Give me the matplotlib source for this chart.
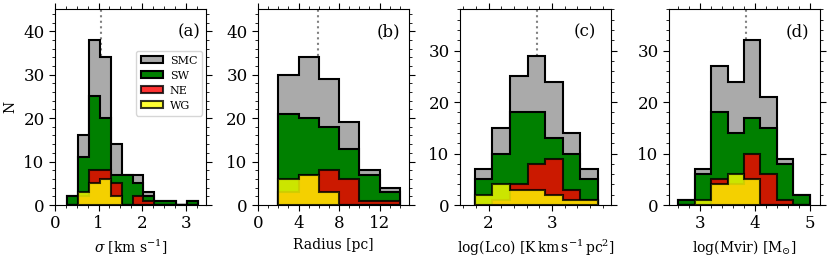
import matplotlib
matplotlib.use("Agg")
import matplotlib.pyplot as plt
from matplotlib.ticker import MultipleLocator

plt.rcParams['font.family'] = 'serif'
plt.rcParams['font.serif'] = ['DejaVu Serif']
plt.rcParams['mathtext.fontset'] = 'dejavuserif'

# groups, drawn back to front
labels = ['SMC', 'SW', 'NE', 'WG']
colors = ['#aaaaaa', 'green', 'red', 'yellow']
alphas = [1.0, 1.0, 0.8, 0.8]

# (a) velocity dispersion
sig_edges = [0.28, 0.53, 0.78, 1.03, 1.28, 1.53, 1.78, 2.03, 2.28, 2.53, 2.78, 3.03, 3.28]
sig_smc = [2, 16, 38, 34, 14, 7, 7, 3, 1, 1, 0, 1]
sig_sw = [2, 11, 25, 20, 7, 7, 5, 2, 1, 1, 0, 1]
sig_ne = [0, 2, 8, 8, 5, 0, 2, 1, 0, 0, 0, 0]
sig_wg = [0, 3, 5, 6, 2, 0, 0, 0, 0, 0, 0, 0]

# (b) radius
rad_edges = [2, 4, 6, 8, 10, 12, 14]
rad_smc = [30, 34, 29, 19, 8, 4]
rad_sw = [21, 20, 18, 13, 7, 3]
rad_ne = [3, 7, 8, 6, 1, 1]
rad_wg = [6, 7, 3, 0, 0, 0]

# (c) log CO luminosity
lco_edges = [1.78, 2.058, 2.336, 2.614, 2.892, 3.17, 3.448, 3.726]
lco_smc = [7, 15, 25, 29, 24, 14, 7]
lco_sw = [5, 10, 18, 18, 13, 10, 5]
lco_ne = [0, 1, 4, 8, 9, 3, 1]
lco_wg = [2, 4, 3, 3, 2, 1, 1]

# (d) log virial mass
mvir_edges = [2.6, 2.9, 3.2, 3.5, 3.8, 4.1, 4.4, 4.7, 5.0]
mvir_smc = [1, 7, 27, 24, 32, 21, 9, 2]
mvir_sw = [1, 6, 18, 14, 17, 15, 8, 2]
mvir_ne = [0, 0, 5, 4, 10, 6, 1, 0]
mvir_wg = [0, 1, 4, 6, 5, 0, 0, 0]

# median markers
medians = [1.06, 5.9, 2.77, 3.84]

panels = [
    (sig_edges, [sig_smc, sig_sw, sig_ne, sig_wg], r'$\sigma$ [km s$^{-1}$]', '(a)'),
    (rad_edges, [rad_smc, rad_sw, rad_ne, rad_wg], 'Radius [pc]', '(b)'),
    (lco_edges, [lco_smc, lco_sw, lco_ne, lco_wg],
     r'log(Lco) [$\mathrm{K\,km\,s^{-1}\,pc^{2}}$]', '(c)'),
    (mvir_edges, [mvir_smc, mvir_sw, mvir_ne, mvir_wg], r'log(Mvir) [M$_{\odot}$]', '(d)'),
]

xlims = [(0, 3.47), (0, 14.9), (1.55, 3.93), (2.43, 5.19)]
ylims = [45, 45, 38, 38]
xmajor = [1, 4, 1, 1]
xminor = [0.25, 1, 0.2, 0.2]
lefts = [0.0663, 0.3108, 0.5542, 0.806]
tagx = [0.96, 0.94, 0.90, 0.93]

fig = plt.figure(figsize=(8.3, 2.6), dpi=100)

for i, (edges, groups, xlabel, tag) in enumerate(panels):
    ax = fig.add_axes([lefts[i], 0.2115, 0.182, 0.752])
    ax.axvline(medians[i], color='gray', ls=':', lw=1.5, zorder=0)
    for counts, lab, c, a in zip(groups, labels, colors, alphas):
        ax.hist(edges[:-1], bins=edges, weights=counts, histtype='stepfilled',
                facecolor=c, edgecolor='black', lw=1.5, alpha=a, label=lab)
    ax.set_xlim(*xlims[i])
    ax.set_ylim(0, ylims[i])
    ax.xaxis.set_major_locator(MultipleLocator(xmajor[i]))
    ax.xaxis.set_minor_locator(MultipleLocator(xminor[i]))
    ax.yaxis.set_major_locator(MultipleLocator(10))
    ax.yaxis.set_minor_locator(MultipleLocator(2))
    ax.tick_params(which='both', direction='out', top=True, right=True, labelsize=12)
    ax.tick_params(which='major', length=4)
    ax.tick_params(which='minor', length=2)
    ax.set_xlabel(xlabel, fontsize=10)
    ax.text(tagx[i], 0.93, tag, transform=ax.transAxes, ha='right', va='top', fontsize=12)
    if i == 0:
        ax.set_ylabel('N', fontsize=10)
        ax.legend(loc='upper right', bbox_to_anchor=(0.975, 0.79), borderaxespad=0,
                  fontsize=8, handlelength=2.0, handleheight=0.6, labelspacing=0.45,
                  handletextpad=0.6, borderpad=0.45)

fig.savefig('out.png', dpi=100)
